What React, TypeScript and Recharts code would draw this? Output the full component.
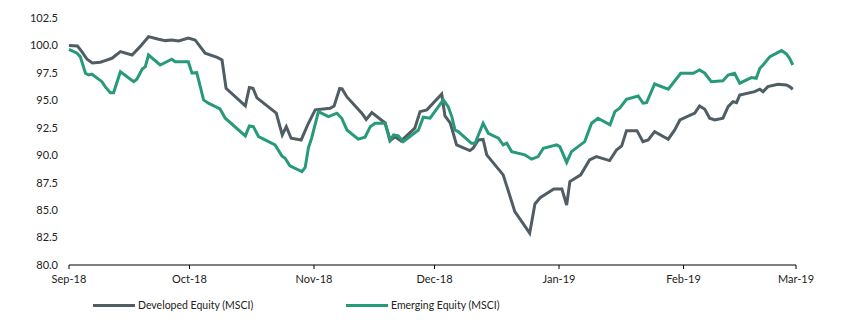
import { LineChart, Line, XAxis, YAxis, Legend } from "recharts";

// day offsets from 1 Sep 2018
const monthTicks = [0, 30, 61, 91, 122, 153, 181];
const monthLabels = ["Sep-18", "Oct-18", "Nov-18", "Dec-18", "Jan-19", "Feb-19", "Mar-19"];
const valueTicks = [80, 82.5, 85, 87.5, 90, 92.5, 95, 97.5, 100, 102.5];

const developedDays = [
  0, 2.1, 3.2, 4.5, 5.8, 7.8, 9.0, 10.7, 12.8, 15.7, 17.7, 19.8, 22.3, 24.0, 25.6, 27.3, 29.7, 31.4,
  33.9, 36.9, 38.1, 39.1, 43.9, 44.9, 45.8, 46.8, 51.6, 53.1, 54.1, 55.3, 57.8, 59.6, 61.3, 65.0,
  66.0, 67.4, 68.0, 69.2, 72.9, 74.0, 75.4, 77.2, 78.7, 79.9, 81.2, 82.7, 86.1, 87.4, 89.1, 92.8,
  93.6, 94.9, 96.5, 99.8, 100.6, 101.9, 103.1, 104.0, 108.1, 111.0, 114.7, 116.0, 117.3, 120.7,
  122.7, 123.9, 124.7, 127.4, 129.6, 131.3, 134.6, 136.3, 137.6, 138.8, 141.4, 142.9, 144.2, 145.8,
  149.2, 150.8, 152.1, 155.8, 157.0, 158.3, 159.5, 160.8, 162.8, 164.1, 165.3, 166.2, 167.0, 170.7,
  172.0, 172.8, 174.0, 176.5, 178.6, 179.4, 180.2,
];
const developedValues = [
  100.0, 99.95, 99.44, 98.74, 98.41, 98.47, 98.62, 98.83, 99.44, 99.13, 99.89, 100.8, 100.56, 100.44,
  100.5, 100.41, 100.68, 100.5, 99.29, 98.91, 98.68, 96.1, 94.49, 96.17, 96.1, 95.22, 93.83, 91.85,
  92.6, 91.55, 91.39, 92.91, 94.13, 94.28, 94.49, 96.08, 96.04, 95.31, 93.83, 93.26, 93.88, 93.37,
  92.94, 91.3, 91.69, 91.3, 92.46, 93.97, 94.13, 95.58, 93.58, 92.94, 90.94, 90.42, 90.64, 91.39,
  91.44, 90.03, 88.21, 84.86, 82.9, 85.56, 86.13, 86.93, 86.93, 85.47, 87.6, 88.21, 89.57, 89.87,
  89.51, 90.48, 90.85, 92.24, 92.24, 91.24, 91.39, 92.15, 91.46, 92.3, 93.21, 93.83, 94.49, 94.19,
  93.37, 93.21, 93.37, 94.43, 94.88, 94.79, 95.49, 95.79, 96.01, 95.79, 96.25, 96.47, 96.4, 96.25,
  96.01,
];

const emergingDays = [
  0, 2.0, 2.8, 4.1, 4.9, 5.7, 8.2, 9.0, 10.3, 11.1, 12.8, 16.1, 16.9, 18.2, 19.0, 19.8, 22.7, 25.6,
  26.4, 29.7, 30.6, 31.8, 33.5, 34.7, 37.6, 38.9, 43.9, 44.9, 45.9, 47.2, 51.3, 53.0, 53.8, 55.0,
  58.0, 58.8, 59.6, 60.4, 62.1, 64.6, 66.7, 67.9, 69.2, 72.0, 73.7, 75.0, 76.2, 78.7, 80.0, 80.8,
  82.0, 83.2, 87.0, 88.2, 89.9, 93.2, 94.4, 95.3, 96.1, 96.9, 100.2, 101.1, 103.1, 104.4, 106.9,
  108.1, 109.0, 110.2, 113.5, 115.2, 116.8, 118.1, 121.4, 122.2, 123.9, 125.1, 128.4, 130.1, 131.7,
  134.7, 135.9, 137.1, 138.8, 141.7, 142.9, 143.8, 145.8, 149.2, 152.3, 155.4, 157.0, 158.3, 159.9,
  162.8, 164.1, 165.7, 167.0, 169.9, 171.1, 172.0, 172.8, 174.5, 177.4, 178.6, 179.4, 180.2,
];
const emergingValues = [
  99.65, 99.29, 98.98, 97.47, 97.31, 97.38, 96.7, 96.25, 95.7, 95.7, 97.61, 96.7, 96.92, 97.83, 98.07,
  99.13, 98.22, 98.74, 98.52, 98.52, 97.5, 97.52, 95.04, 94.74, 94.22, 93.37, 91.76, 92.67, 92.6,
  91.69, 90.94, 89.94, 89.73, 89.03, 88.51, 88.89, 90.66, 91.55, 93.97, 93.52, 93.83, 93.37, 92.3,
  91.46, 91.64, 92.6, 92.91, 92.91, 91.39, 91.85, 91.76, 91.24, 92.3, 93.46, 93.37, 95.04, 94.43,
  93.52, 92.3, 92.15, 91.09, 91.09, 92.91, 92.0, 91.55, 90.94, 91.09, 90.33, 90.03, 89.64, 89.87,
  90.64, 90.94, 90.78, 89.34, 90.33, 91.24, 92.91, 93.37, 92.76, 93.97, 94.28, 95.1, 95.4, 94.74,
  94.79, 96.49, 96.01, 97.47, 97.47, 97.77, 97.47, 96.7, 96.79, 97.31, 97.47, 96.56, 97.07, 97.01,
  97.92, 98.22, 98.98, 99.53, 99.23, 98.83, 98.22,
];

const developedData = developedDays.map((day, i) => ({ day, value: developedValues[i] }));
const emergingData = emergingDays.map((day, i) => ({ day, value: emergingValues[i] }));

const GREY = "#505d64";
const GREEN = "#279a7c";
const FONT = "Lato, 'Open Sans', sans-serif";

const series = [
  { name: "Developed Equity (MSCI)", color: GREY },
  { name: "Emerging Equity (MSCI)", color: GREEN },
];

function ChartLegend() {
  return (
    <div style={{ display: "flex", paddingLeft: 93, fontFamily: FONT, fontSize: 10.5, color: "#222" }}>
      {series.map((s) => (
        <div key={s.name} style={{ width: 253, display: "flex", alignItems: "center" }}>
          <div style={{ width: 42, height: 3, background: s.color, marginRight: 3 }} />
          <span>{s.name}</span>
        </div>
      ))}
    </div>
  );
}

export default function App() {
  return (
    <div style={{ position: "absolute", left: 0, top: 0, background: "#fff" }}>
      <LineChart width={862} height={327} margin={{ top: 18, right: 66, bottom: 6, left: 9 }}>
        <XAxis
          type="number"
          dataKey="day"
          domain={[0, 181]}
          ticks={monthTicks}
          tickFormatter={(v: number) => monthLabels[monthTicks.indexOf(v)]}
          stroke="#000"
          tick={{ fill: "#222", fontSize: 11, fontFamily: FONT }}
          tickSize={4}
          tickMargin={6}
          height={34}
          interval={0}
        />
        <YAxis
          type="number"
          domain={[80, 102.5]}
          ticks={valueTicks}
          tickFormatter={(v: number) => v.toFixed(1)}
          axisLine={false}
          tickLine={false}
          tick={{ fill: "#222", fontSize: 11, fontFamily: FONT }}
          tickMargin={5}
          width={60}
          interval={0}
        />
        <Legend
          verticalAlign="bottom"
          height={22}
          wrapperStyle={{ left: 0, width: 862 }}
          content={() => <ChartLegend />}
        />
        <Line
          data={developedData}
          dataKey="value"
          name={series[0].name}
          stroke={GREY}
          strokeWidth={3}
          dot={false}
          type="linear"
          isAnimationActive={false}
        />
        <Line
          data={emergingData}
          dataKey="value"
          name={series[1].name}
          stroke={GREEN}
          strokeWidth={3}
          dot={false}
          type="linear"
          isAnimationActive={false}
        />
      </LineChart>
    </div>
  );
}
